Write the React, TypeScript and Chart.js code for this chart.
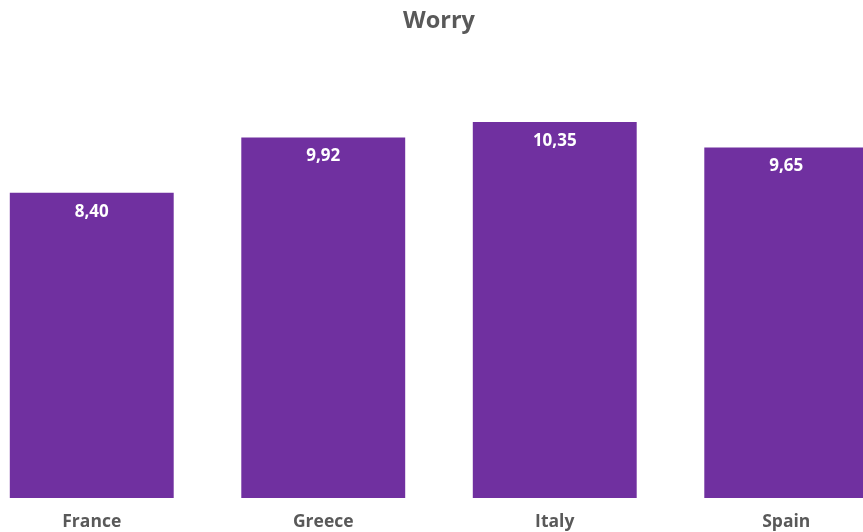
import React, { useEffect, useRef } from "react";
import { Chart, registerables } from "chart.js";

Chart.register(...registerables);

const categories = ["France", "Greece", "Italy", "Spain"];
const values = [8.4, 9.92, 10.35, 9.65];
const titleText = "Worry";

const FONT = "'Open Sans', 'DejaVu Sans', sans-serif";

const valueLabels = {
  id: "valueLabels",
  afterDatasetsDraw(chart: any) {
    const ctx = chart.ctx;
    const meta = chart.getDatasetMeta(0);
    ctx.save();
    ctx.fillStyle = "#ffffff";
    ctx.font = `bold 17px ${FONT}`;
    ctx.textAlign = "center";
    ctx.textBaseline = "middle";
    meta.data.forEach((bar: any, i: number) => {
      const txt = values[i].toFixed(2).replace(".", ",");
      ctx.fillText(txt, bar.x, bar.y + 19);
    });
    ctx.restore();
  },
};

export default function App() {
  const ref = useRef<HTMLCanvasElement | null>(null);
  useEffect(() => {
    if (!ref.current) return;
    const chart = new Chart(ref.current, {
      type: "bar",
      data: {
        labels: categories,
        datasets: [
          {
            data: values,
            backgroundColor: "#7030A0",
            borderWidth: 0,
            categoryPercentage: 1,
            barPercentage: 0.708,
          },
        ],
      },
      options: {
        animation: false,
        responsive: false,
        maintainAspectRatio: false,
        layout: { padding: { top: 0, bottom: 0, left: 0, right: 0 } },
        plugins: {
          legend: { display: false },
          tooltip: { enabled: false },
          title: {
            display: true,
            text: titleText,
            color: "#595959",
            font: { family: FONT, size: 23.5, weight: "bold" },
            padding: { top: 7, bottom: 26.8 },
          },
        },
        scales: {
          x: {
            grid: { display: false, drawTicks: false },
            border: { display: false },
            ticks: {
              color: "#595959",
              font: { family: FONT, size: 17.5, weight: "bold" },
              padding: 13.6,
              maxRotation: 0,
            },
            afterFit: (scale: any) => {
              scale.height = 34;
            },
          },
          y: {
            display: false,
            min: 0,
            max: 12,
          },
        },
      },
      plugins: [valueLabels],
    });
    return () => chart.destroy();
  }, []);
  return (
    <div
      style={{
        position: "fixed",
        left: 0,
        top: 0,
        width: 863,
        height: 532,
        overflow: "hidden",
        background: "#fff",
      }}
    >
      <canvas
        ref={ref}
        width={926}
        height={532}
        style={{ position: "absolute", left: -24, top: 0, width: 926, height: 532 }}
      />
    </div>
  );
}
